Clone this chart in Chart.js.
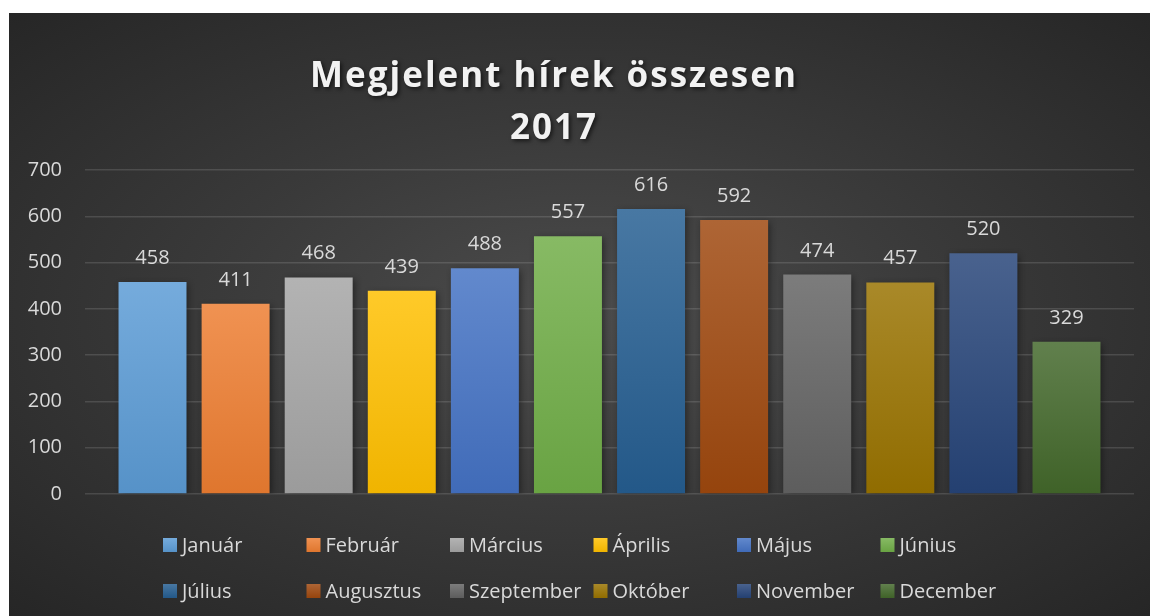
<!DOCTYPE html>
<html>
<head>
<meta charset="utf-8">
<script src="https://cdn.jsdelivr.net/npm/chart.js@4"></script>
<style>
  body { margin: 0; background: #ffffff; }
  #wrap {
    position: absolute; left: 9px; top: 13px; width: 1141px; height: 603px;
    background: radial-gradient(ellipse at 50% 50%, #4c4c4c 0%, #3a3a3a 45%, #262626 100%);
  }
</style>
</head>
<body>
<div id="wrap"><canvas id="hirek"></canvas></div>
<script>
const months = ["Január", "Február", "Március", "Április", "Május", "Június",
                "Július", "Augusztus", "Szeptember", "Október", "November", "December"];
const counts = [458, 411, 468, 439, 488, 557, 616, 592, 474, 457, 520, 329];
const colors = ["#5B9BD5", "#ED7D31", "#A5A5A5", "#FFC000", "#4472C4", "#70AD47",
                "#255E91", "#9E480E", "#636363", "#997300", "#264478", "#43682B"];
const titleLines = ["Megjelent hírek összesen", "2017"];
const yMin = 0, yMax = 700, yStep = 100;

const font = '"Open Sans", "Noto Sans", sans-serif';
const textColor = "#d9d9d9";

function mix(hex, other, t) {
  const a = parseInt(hex.slice(1), 16), b = parseInt(other.slice(1), 16);
  const ch = (n, s) => (n >> s) & 255;
  const r = Math.round(ch(a,16) + (ch(b,16) - ch(a,16)) * t);
  const g = Math.round(ch(a,8) + (ch(b,8) - ch(a,8)) * t);
  const bl = Math.round(ch(a,0) + (ch(b,0) - ch(a,0)) * t);
  return "rgb(" + r + "," + g + "," + bl + ")";
}

function barGradient(context, color) {
  const chart = context.chart;
  const area = chart.chartArea;
  if (!area || context.type !== "data") return color;
  const top = chart.scales.y.getPixelForValue(context.raw);
  const g = chart.ctx.createLinearGradient(0, top, 0, area.bottom);
  g.addColorStop(0, mix(color, "#ffffff", 0.16));
  g.addColorStop(1, mix(color, "#000000", 0.06));
  return g;
}

// shadow under every bar
const barShadow = {
  id: "barShadow",
  beforeDatasetDraw(chart) {
    const ctx = chart.ctx;
    ctx.save();
    ctx.shadowColor = "rgba(0,0,0,0.45)";
    ctx.shadowBlur = 7;
    ctx.shadowOffsetX = 2;
    ctx.shadowOffsetY = 2;
  },
  afterDatasetDraw(chart) {
    chart.ctx.restore();
  }
};

// value labels above bars
const valueLabels = {
  id: "valueLabels",
  afterDatasetsDraw(chart) {
    const ctx = chart.ctx;
    ctx.save();
    ctx.font = "20px " + font;
    ctx.fillStyle = textColor;
    ctx.textAlign = "center";
    ctx.textBaseline = "alphabetic";
    chart.data.datasets.forEach((ds, i) => {
      const bar = chart.getDatasetMeta(i).data[0];
      ctx.fillText(String(ds.data[0]), bar.x, bar.y - 18);
    });
    ctx.restore();
  }
};

// title with letter spacing and shadow
const titleDraw = {
  id: "titleDraw",
  afterDraw(chart) {
    const ctx = chart.ctx;
    ctx.save();
    ctx.font = "bold 35px " + font;
    ctx.letterSpacing = "2px";
    ctx.fillStyle = "#f2f2f2";
    ctx.textAlign = "center";
    ctx.shadowColor = "rgba(0,0,0,0.6)";
    ctx.shadowBlur = 4;
    ctx.shadowOffsetX = 2;
    ctx.shadowOffsetY = 2;
    ctx.fillText(titleLines[0], 545, 74);
    ctx.fillText(titleLines[1], 545, 126);
    ctx.restore();
  }
};

// excel style legend: 6 fixed columns, 2 rows
const gridLegend = {
  id: "gridLegend",
  afterDraw(chart) {
    const ctx = chart.ctx;
    ctx.save();
    ctx.font = "20px " + font;
    ctx.textBaseline = "middle";
    ctx.fillStyle = textColor;
    months.forEach((m, i) => {
      const col = i % 6, row = Math.floor(i / 6);
      const x = 154 + col * 143.5;
      const y = 532 + row * 46;
      const g = ctx.createLinearGradient(0, y - 7, 0, y + 7);
      g.addColorStop(0, mix(colors[i], "#ffffff", 0.16));
      g.addColorStop(1, mix(colors[i], "#000000", 0.06));
      ctx.fillStyle = g;
      ctx.fillRect(x, y - 7, 14, 14);
      ctx.fillStyle = textColor;
      ctx.fillText(m, x + 19, y + 1);
    });
    ctx.restore();
  }
};

const datasets = months.map((m, i) => ({
  label: m,
  data: [counts[i]],
  backgroundColor: ctx => barGradient(ctx, colors[i]),
  barPercentage: 0.818,
  categoryPercentage: 0.9505
}));

new Chart(document.getElementById("hirek"), {
  type: "bar",
  data: { labels: ["2017"], datasets },
  options: {
    responsive: true,
    maintainAspectRatio: false,
    animation: false,
    layout: { padding: { top: 157, bottom: 122, left: 0, right: 16 } },
    plugins: {
      legend: { display: false },
      title: { display: false },
      tooltip: { enabled: false }
    },
    scales: {
      x: { display: false },
      y: {
        min: yMin, max: yMax,
        ticks: { stepSize: yStep, color: textColor, font: { family: font, size: 20 }, padding: 23 },
        grid: { color: "rgba(255,255,255,0.13)", lineWidth: 1.5, drawTicks: false },
        border: { display: false },
        afterFit(scale) { scale.width = 76; }
      }
    }
  },
  plugins: [barShadow, valueLabels, titleDraw, gridLegend]
});
</script>
</body>
</html>
